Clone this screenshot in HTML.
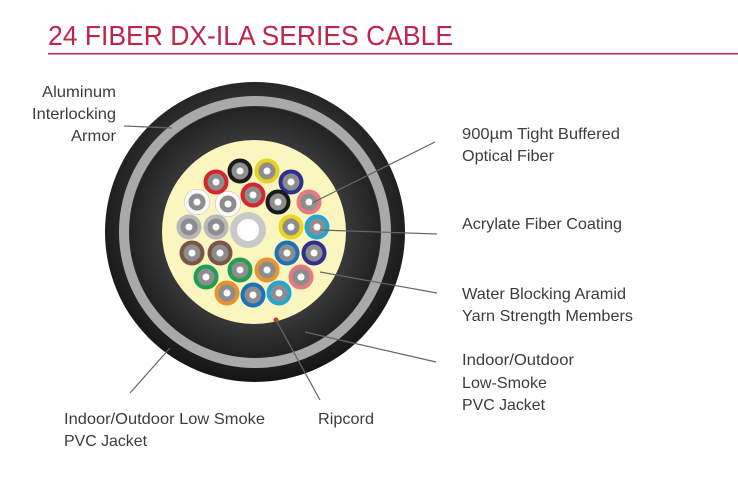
<!DOCTYPE html>
<html><head><meta charset="utf-8"><style>
html,body{margin:0;padding:0;background:#fff;}
svg{display:block;}
text{font-family:"Liberation Sans",sans-serif;fill:#3c3c3c;font-size:16px;}
</style></head><body>
<svg width="738" height="503" viewBox="0 0 738 503" xmlns="http://www.w3.org/2000/svg">
<defs>
<radialGradient id="jk" cx="50%" cy="45%" r="55%">
<stop offset="0.6" stop-color="#3a3a3a"/><stop offset="1" stop-color="#151515"/>
</radialGradient>
<radialGradient id="in" cx="50%" cy="50%" r="50%">
<stop offset="0.7" stop-color="#3b3b3b"/><stop offset="1" stop-color="#222"/>
</radialGradient>
</defs>
<text x="48" y="45" style="font-size:28px;fill:#c0244b" textLength="405" lengthAdjust="spacingAndGlyphs">24 FIBER DX-ILA SERIES CABLE</text>
<rect x="48" y="53" width="690" height="1.5" fill="#c0244b"/>

<circle cx="255" cy="232" r="150" fill="url(#jk)"/>
<circle cx="255" cy="232" r="131" fill="none" stroke="#a9a9a9" stroke-width="10"/>
<circle cx="255" cy="232" r="125" fill="url(#in)"/>
<circle cx="254" cy="232" r="92" fill="#fbf6c0"/>
<circle cx="248" cy="230" r="18" fill="#c8c8c8"/>
<circle cx="248" cy="230" r="11" fill="#fff"/>
<g>
<circle cx="197" cy="202" r="13" fill="#bbb"/>
<circle cx="228" cy="204" r="13" fill="#bbb"/>
<g stroke-width="4" fill="#8d8d8d">
<circle cx="240" cy="171" r="10.5" stroke="#1a1a1a"/>
<circle cx="267" cy="171" r="10.5" stroke="#e8d020"/>
<circle cx="216" cy="182" r="10.5" stroke="#d8242e"/>
<circle cx="291" cy="182" r="10.5" stroke="#2e3090"/>
<circle cx="197" cy="202" r="10.5" stroke="#fafafa"/>
<circle cx="228" cy="204" r="10.5" stroke="#fafafa"/>
<circle cx="253" cy="195" r="10.5" stroke="#d8242e"/>
<circle cx="278" cy="202" r="10.5" stroke="#1a1a1a"/>
<circle cx="309" cy="202" r="10.5" stroke="#e67a80"/>
<circle cx="189" cy="227" r="10.5" stroke="#b8b8b8"/>
<circle cx="216" cy="227" r="10.5" stroke="#b8b8b8"/>
<circle cx="291" cy="227" r="10.5" stroke="#f0d420"/>
<circle cx="317" cy="227" r="10.5" stroke="#22a6d6"/>
<circle cx="192" cy="253" r="10.5" stroke="#7a5444"/>
<circle cx="220" cy="253" r="10.5" stroke="#7a5444"/>
<circle cx="287" cy="253" r="10.5" stroke="#1c72b8"/>
<circle cx="314" cy="253" r="10.5" stroke="#2e3090"/>
<circle cx="206" cy="277" r="10.5" stroke="#1ea050"/>
<circle cx="240" cy="270" r="10.5" stroke="#1ea050"/>
<circle cx="267" cy="270" r="10.5" stroke="#e8942e"/>
<circle cx="301" cy="277" r="10.5" stroke="#e67a80"/>
<circle cx="227" cy="293" r="10.5" stroke="#e8942e"/>
<circle cx="253" cy="295" r="10.5" stroke="#1c72b8"/>
<circle cx="279" cy="293" r="10.5" stroke="#22a6d6"/>
</g>
<g fill="#fff">
<circle cx="240" cy="171" r="3.5"/><circle cx="267" cy="171" r="3.5"/><circle cx="216" cy="182" r="3.5"/><circle cx="291" cy="182" r="3.5"/>
<circle cx="197" cy="202" r="3.5"/><circle cx="228" cy="204" r="3.5"/><circle cx="253" cy="195" r="3.5"/><circle cx="278" cy="202" r="3.5"/>
<circle cx="309" cy="202" r="3.5"/><circle cx="189" cy="227" r="3.5"/><circle cx="216" cy="227" r="3.5"/><circle cx="291" cy="227" r="3.5"/>
<circle cx="317" cy="227" r="3.5"/><circle cx="192" cy="253" r="3.5"/><circle cx="220" cy="253" r="3.5"/><circle cx="287" cy="253" r="3.5"/>
<circle cx="314" cy="253" r="3.5"/><circle cx="206" cy="277" r="3.5"/><circle cx="240" cy="270" r="3.5"/><circle cx="267" cy="270" r="3.5"/>
<circle cx="301" cy="277" r="3.5"/><circle cx="227" cy="293" r="3.5"/><circle cx="253" cy="295" r="3.5"/><circle cx="279" cy="293" r="3.5"/>
</g>
<circle cx="276" cy="320" r="2.5" fill="#b8401c"/>
</g>

<g stroke="#666" stroke-width="1.2" fill="none">
<line x1="124" y1="126" x2="172" y2="128"/>
<line x1="435" y1="142" x2="312" y2="203"/>
<line x1="437" y1="234" x2="320" y2="230"/>
<line x1="437" y1="293" x2="320" y2="272"/>
<line x1="436" y1="362" x2="305" y2="332"/>
<line x1="320" y1="400" x2="276" y2="320"/>
<line x1="130" y1="393" x2="170" y2="348"/>
</g>

<text x="42" y="97" textLength="74" lengthAdjust="spacingAndGlyphs">Aluminum</text>
<text x="32" y="119" textLength="84" lengthAdjust="spacingAndGlyphs">Interlocking</text>
<text x="71" y="141" textLength="45" lengthAdjust="spacingAndGlyphs">Armor</text>
<text x="462" y="139" textLength="158" lengthAdjust="spacingAndGlyphs">900µm Tight Buffered</text>
<text x="462" y="161" textLength="92" lengthAdjust="spacingAndGlyphs">Optical Fiber</text>
<text x="462" y="229" textLength="160" lengthAdjust="spacingAndGlyphs">Acrylate Fiber Coating</text>
<text x="462" y="299" textLength="164" lengthAdjust="spacingAndGlyphs">Water Blocking Aramid</text>
<text x="462" y="321" textLength="171" lengthAdjust="spacingAndGlyphs">Yarn Strength Members</text>
<text x="462" y="365" textLength="112" lengthAdjust="spacingAndGlyphs">Indoor/Outdoor</text>
<text x="462" y="388" textLength="85" lengthAdjust="spacingAndGlyphs">Low-Smoke</text>
<text x="462" y="410" textLength="83" lengthAdjust="spacingAndGlyphs">PVC Jacket</text>
<text x="318" y="424" textLength="56" lengthAdjust="spacingAndGlyphs">Ripcord</text>
<text x="64" y="424" textLength="201" lengthAdjust="spacingAndGlyphs">Indoor/Outdoor Low Smoke</text>
<text x="64" y="446" textLength="83" lengthAdjust="spacingAndGlyphs">PVC Jacket</text>
</svg>
</body></html>
